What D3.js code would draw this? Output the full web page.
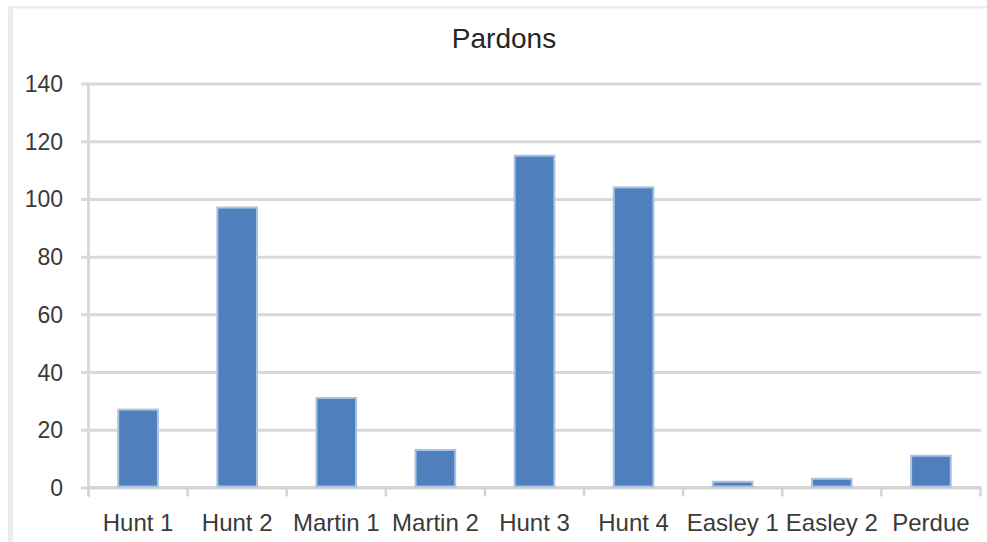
<!DOCTYPE html>
<html>
<head>
<meta charset="utf-8">
<script src="https://cdn.jsdelivr.net/npm/d3@7"></script>
<style>
  html, body { margin: 0; padding: 0; background: #ffffff; }
  svg { display: block; }
  text { font-family: "Liberation Sans", Arial, sans-serif; }
</style>
</head>
<body>
<svg id="chart" width="987" height="542"></svg>
<script>
// Pardons granted per governor term
const categories = ["Hunt 1", "Hunt 2", "Martin 1", "Martin 2", "Hunt 3", "Hunt 4", "Easley 1", "Easley 2", "Perdue"];
const pardons = [27, 97, 31, 13, 115, 104, 2, 3, 11];
const yTicks = [0, 20, 40, 60, 80, 100, 120, 140];
const chartTitle = "Pardons";

const width = 987, height = 542;
const plot = { left: 88.5, right: 980.5, top: 83.5, bottom: 487.5 };

const svg = d3.select("#chart");

// chart frame (left and top edges)
svg.append("rect").attr("x", 8).attr("y", 6).attr("width", 5).attr("height", height - 6).attr("fill", "#ececec");
svg.append("rect").attr("x", 8).attr("y", 6).attr("width", width - 8).attr("height", 2.5).attr("fill", "#ececec");

const x = d3.scaleBand().domain(categories).range([plot.left, plot.right]).padding(0);
const y = d3.scaleLinear().domain([0, 140]).range([plot.bottom, plot.top]);

// horizontal gridlines with y-axis labels
const yAxis = d3.axisLeft(y)
  .tickValues(yTicks)
  .tickSize(-(plot.right - plot.left + 8))
  .tickPadding(0)
  .tickFormat(d3.format("d"));

const gy = svg.append("g")
  .attr("transform", `translate(${plot.left - 7.5},0)`)
  .call(yAxis);
gy.select(".domain").remove();
gy.selectAll(".tick line")
  .attr("stroke", "#d9d9d9")
  .attr("stroke-width", 3)
  .attr("x1", 0)
  .attr("x2", plot.right - plot.left + 8);
gy.selectAll(".tick text")
  .attr("x", 63 - (plot.left - 7.5))
  .attr("dy", "0.35em")
  .attr("text-anchor", "end")
  .attr("fill", "#3a3a3a")
  .style("font-size", "23px");

// vertical axis line
svg.append("line")
  .attr("x1", plot.left).attr("x2", plot.left)
  .attr("y1", plot.top).attr("y2", plot.bottom + 9)
  .attr("stroke", "#d9d9d9").attr("stroke-width", 3);

// category axis: baseline, boundary ticks and labels
const xAxis = d3.axisBottom(x).tickSize(0).tickPadding(0);
const gx = svg.append("g")
  .attr("transform", `translate(0,${plot.bottom})`)
  .call(xAxis);
gx.select(".domain").remove();
gx.selectAll(".tick line").remove();
gx.selectAll(".tick text")
  .attr("y", 531 - plot.bottom)
  .attr("dy", 0)
  .attr("fill", "#3a3a3a")
  .style("font-size", "24px");

svg.append("line")
  .attr("x1", plot.left).attr("x2", plot.right + 1)
  .attr("y1", plot.bottom).attr("y2", plot.bottom)
  .attr("stroke", "#d4d4d4").attr("stroke-width", 3);

const boundaries = categories.map(c => x(c)).concat([x(categories[categories.length - 1]) + x.bandwidth()]);
svg.append("g").selectAll("line")
  .data(boundaries)
  .join("line")
  .attr("x1", d => d).attr("x2", d => d)
  .attr("y1", plot.bottom).attr("y2", plot.bottom + 9)
  .attr("stroke", "#d4d4d4").attr("stroke-width", 2.5);

// bars
const barW = x.bandwidth() * 0.4;
svg.append("g").selectAll("rect")
  .data(categories.map((c, i) => ({ c, v: pardons[i] })))
  .join("rect")
  .attr("x", d => x(d.c) + (x.bandwidth() - barW) / 2)
  .attr("y", d => y(d.v))
  .attr("width", barW)
  .attr("height", d => y(0) - y(d.v) - 1)
  .attr("fill", "#4f7fbc")
  .attr("stroke", "#a9c3e3")
  .attr("stroke-width", 2);

// title
svg.append("text")
  .attr("x", 504)
  .attr("y", 48)
  .attr("text-anchor", "middle")
  .attr("fill", "#262626")
  .style("font-size", "28px")
  .text(chartTitle);
</script>
</body>
</html>
